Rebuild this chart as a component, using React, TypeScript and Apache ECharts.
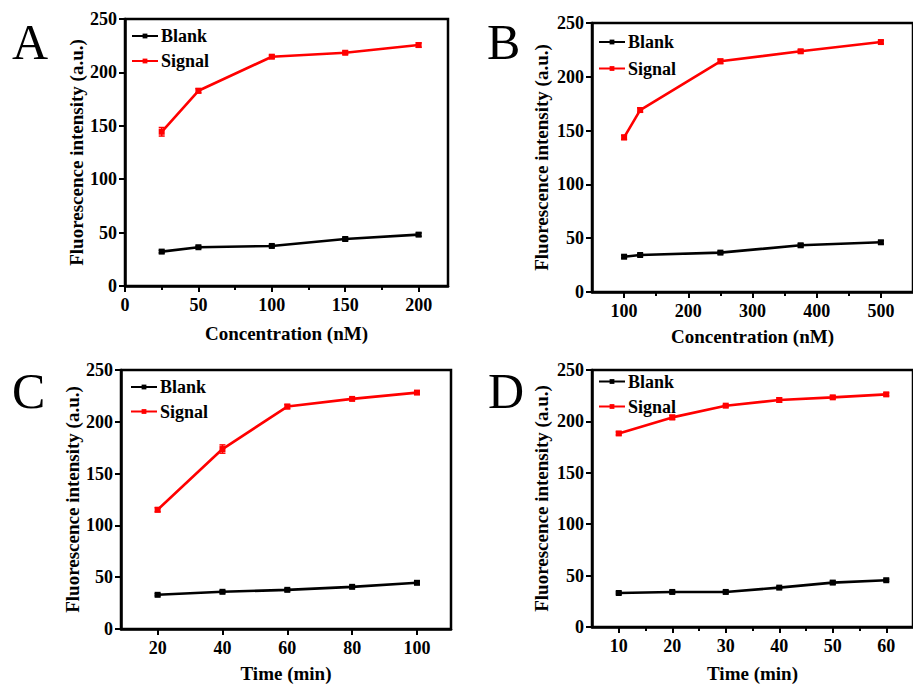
import React, { useEffect, useRef } from "react";
import * as echarts from "echarts";

// ---- Data ----
const yTicks = [0, 50, 100, 150, 200, 250];

const concA = [25, 50, 100, 150, 200];
const blankA = [32.2, 36.3, 37.5, 44.0, 48.1];
const signalA = [144.4, 182.8, 214.7, 218.4, 225.6];
const blankErrA = [1.2, 1, 1, 1.5, 1.5];
const signalErrA = [4, 2, 1.5, 1.5, 2];
const xTicksA = [0, 50, 100, 150, 200];
const xMinorA = [25, 75, 125, 175];

const concB = [100, 125, 250, 375, 500];
const blankB = [32.8, 34.4, 36.6, 43.4, 46.2];
const signalB = [143.7, 169.1, 214.4, 223.7, 232.3];
const blankErrB = [1.2, 1, 1.2, 1.5, 1.5];
const signalErrB = [2, 2, 2, 1.5, 1.5];
const xTicksB = [100, 200, 300, 400, 500];
const xMinorB = [150, 250, 350, 450];

const timeC = [20, 40, 60, 80, 100];
const blankC = [33.0, 35.9, 37.8, 40.7, 44.6];
const signalC = [115.1, 173.7, 214.7, 222.1, 228.2];
const blankErrC = [1, 1, 1, 1, 1.5];
const signalErrC = [2, 4, 2, 1, 1.5];
const xTicksC = [20, 40, 60, 80, 100];
const xMinorC: number[] = [];

const timeD = [10, 20, 30, 40, 50, 60];
const blankD = [33.1, 34.1, 34.1, 38.3, 43.2, 45.5];
const signalD = [188.3, 203.9, 215.3, 220.8, 223.4, 226.3];
const blankErrD = [1, 1, 1, 1, 1.5, 1];
const signalErrD = [1.5, 2, 1, 2, 1.5, 1.5];
const xTicksD = [10, 20, 30, 40, 50, 60];
const xMinorD = [15, 25, 35, 45, 55];

const FONT = "'Liberation Serif', 'Times New Roman', serif";
const RED = "#ff0000";
const BLACK = "#000000";

type Panel = {
  letter: string;
  x: number[];
  blank: number[];
  signal: number[];
  blankErr: number[];
  signalErr: number[];
  ticks: number[];
  minor: number[];
  xMin: number;
  xMax: number;
  xName: string;
  grid: { left: number; top: number; width: number; height: number };
  yGap: number;
  xGap: number;
  legendLeft: number;
  legendTop: number;
  legendGap: number;
  letterX: number;
  letterY: number;
};

const panels: Panel[] = [
  {
    letter: "A", x: concA, blank: blankA, signal: signalA, blankErr: blankErrA, signalErr: signalErrA,
    ticks: xTicksA, minor: xMinorA, xMin: 0, xMax: 220, xName: "Concentration (nM)",
    grid: { left: 125, top: 19, width: 323, height: 267 }, yGap: 39, xGap: 38,
    legendLeft: 131, legendTop: 27, legendGap: 7, letterX: 12, letterY: 41.5,
  },
  {
    letter: "B", x: concB, blank: blankB, signal: signalB, blankErr: blankErrB, signalErr: signalErrB,
    ticks: xTicksB, minor: xMinorB, xMin: 50, xMax: 550, xName: "Concentration (nM)",
    grid: { left: 592, top: 23, width: 325, height: 269 }, yGap: 41, xGap: 35,
    legendLeft: 598, legendTop: 33, legendGap: 8.5, letterX: 487, letterY: 42,
  },
  {
    letter: "C", x: timeC, blank: blankC, signal: signalC, blankErr: blankErrC, signalErr: signalErrC,
    ticks: xTicksC, minor: xMinorC, xMin: 8.7, xMax: 110.5, xName: "Time (min)",
    grid: { left: 121, top: 370, width: 330, height: 260 }, yGap: 38, xGap: 35,
    legendLeft: 130, legendTop: 378, legendGap: 6.5, letterX: 12, letterY: 390.5,
  },
  {
    letter: "D", x: timeD, blank: blankD, signal: signalD, blankErr: blankErrD, signalErr: signalErrD,
    ticks: xTicksD, minor: xMinorD, xMin: 5, xMax: 65, xName: "Time (min)",
    grid: { left: 592, top: 370, width: 330, height: 257 }, yGap: 41, xGap: 37,
    legendLeft: 598, legendTop: 372.5, legendGap: 7, letterX: 488, letterY: 390.5,
  },
];

function errorBarSeries(name: string, xs: number[], ys: number[], errs: number[], color: string, idx: number) {
  return {
    type: "custom",
    name,
    xAxisIndex: idx,
    yAxisIndex: idx,
    z: 3,
    data: xs.map((x, i) => [x, ys[i], errs[i]]),
    encode: { x: 0, y: 1 },
    renderItem: (params: any, api: any) => {
      const x = api.value(0);
      const y = api.value(1);
      const e = api.value(2);
      const top = api.coord([x, y + e]);
      const bot = api.coord([x, y - e]);
      const hw = 3;
      const st = { stroke: color, lineWidth: 1.5 };
      return {
        type: "group",
        children: [
          { type: "line", shape: { x1: top[0], y1: top[1], x2: bot[0], y2: bot[1] }, style: st },
          { type: "line", shape: { x1: top[0] - hw, y1: top[1], x2: top[0] + hw, y2: top[1] }, style: st },
          { type: "line", shape: { x1: bot[0] - hw, y1: bot[1], x2: bot[0] + hw, y2: bot[1] }, style: st },
        ],
      };
    },
  };
}

function buildOption() {
  const grids: any[] = [];
  const xAxes: any[] = [];
  const yAxes: any[] = [];
  const series: any[] = [];
  const legends: any[] = [];
  const graphics: any[] = [];

  panels.forEach((p, i) => {
    grids.push({
      ...p.grid,
      show: true,
      borderColor: BLACK,
      borderWidth: 2.5,
      backgroundColor: "transparent",
      containLabel: false,
    });
    xAxes.push({
      type: "value",
      gridIndex: i,
      min: p.xMin,
      max: p.xMax,
      position: "bottom",
      name: p.xName,
      nameLocation: "middle",
      nameGap: p.xGap,
      nameTextStyle: { fontFamily: FONT, fontWeight: "bold", fontSize: 19, color: BLACK },
      axisLine: { show: true, onZero: false, lineStyle: { color: BLACK, width: 2.5 } },
      axisTick: { show: true, length: 6, customValues: p.ticks, lineStyle: { color: BLACK, width: 2 } },
      axisLabel: { show: true, customValues: p.ticks, margin: 10, fontFamily: FONT, fontWeight: "bold", fontSize: 18, color: BLACK },
      splitLine: { show: false },
    });
    yAxes.push({
      type: "value",
      gridIndex: i,
      min: 0,
      max: 250,
      interval: 50,
      name: "Fluorescence intensity (a.u.)",
      nameLocation: "middle",
      nameGap: p.yGap,
      nameTextStyle: { fontFamily: FONT, fontWeight: "bold", fontSize: 19, color: BLACK },
      axisLine: { show: true, onZero: false, lineStyle: { color: BLACK, width: 2.5 } },
      axisTick: { show: true, length: 6, lineStyle: { color: BLACK, width: 2 } },
      axisLabel: { show: true, margin: 8, fontFamily: FONT, fontWeight: "bold", fontSize: 18, color: BLACK },
      splitLine: { show: false },
    });
    legends.push({
      data: ["Blank", "Signal"],
      orient: "vertical",
      left: p.legendLeft,
      top: p.legendTop,
      itemWidth: 26,
      itemHeight: 6,
      itemGap: p.legendGap,
      selectedMode: false,
      padding: 0,
      textStyle: { fontFamily: FONT, fontWeight: "bold", fontSize: 18, color: BLACK, lineHeight: 18, padding: [0, 0, 0, -2] },
    });
    series.push({
      type: "line",
      name: "Blank",
      xAxisIndex: i,
      yAxisIndex: i,
      data: p.x.map((x, k) => [x, p.blank[k]]),
      symbol: "rect",
      symbolSize: 6,
      lineStyle: { color: BLACK, width: 2.6 },
      itemStyle: { color: BLACK },
      z: 4,
    });
    series.push({
      type: "line",
      name: "Signal",
      xAxisIndex: i,
      yAxisIndex: i,
      data: p.x.map((x, k) => [x, p.signal[k]]),
      symbol: "rect",
      symbolSize: 6,
      lineStyle: { color: RED, width: 2.6 },
      itemStyle: { color: RED },
      z: 4,
    });
    series.push(errorBarSeries("errBlank" + i, p.x, p.blank, p.blankErr, BLACK, i));
    series.push(errorBarSeries("errSignal" + i, p.x, p.signal, p.signalErr, RED, i));
    graphics.push({
      type: "text",
      x: p.letterX,
      y: p.letterY,
      style: {
        text: p.letter,
        font: `normal 50px ${FONT}`,
        fill: BLACK,
        textAlign: "left",
        textVerticalAlign: "middle",
      },
    });
  });

  // minor-tick axes
  panels.forEach((p, i) => {
    xAxes.push({
      type: "value",
      gridIndex: i,
      min: p.xMin,
      max: p.xMax,
      position: "bottom",
      axisLine: { show: false },
      axisTick: { show: p.minor.length > 0, length: 4, customValues: p.minor, lineStyle: { color: BLACK, width: 2 } },
      axisLabel: { show: false },
      splitLine: { show: false },
    });
  });

  return {
    animation: false,
    backgroundColor: "#ffffff",
    grid: grids,
    xAxis: xAxes,
    yAxis: yAxes,
    legend: legends,
    series,
    graphic: graphics,
  };
}

export default function App() {
  const ref = useRef<HTMLDivElement>(null);
  useEffect(() => {
    if (!ref.current) return;
    const chart = echarts.init(ref.current, undefined, { renderer: "svg" });
    chart.setOption(buildOption() as any);
    return () => chart.dispose();
  }, []);
  return (
    <div
      ref={ref}
      style={{ position: "fixed", left: 0, top: 0, width: 913, height: 684, background: "#fff" }}
    />
  );
}
